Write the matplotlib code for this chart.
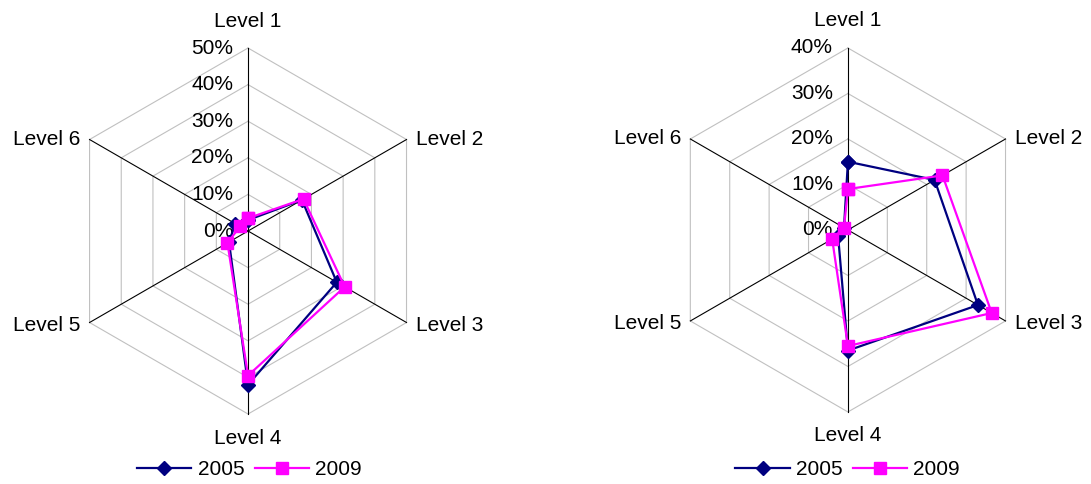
import numpy as np
import matplotlib.pyplot as plt
from matplotlib.transforms import offset_copy

# dados (percentuais)
categorias = ["Level 1", "Level 2", "Level 3", "Level 4", "Level 5", "Level 6"]
series = ["2005", "2009"]
esq_2005 = [3, 17, 28, 42, 6, 4]
esq_2009 = [3.5, 17.5, 30.5, 39.5, 6.5, 2.5]
dir_2005 = [15, 22, 33, 26.5, 2.5, 1]
dir_2009 = [9, 24, 36.5, 25.5, 4, 1]
esq_ticks = [0, 10, 20, 30, 40, 50]
dir_ticks = [0, 10, 20, 30, 40]

cores = ["#000080", "#FF00FF"]
marcadores = ["D", "s"]
tam_marcador = [7, 8.5]

plt.rcParams["font.family"] = ["Liberation Sans", "DejaVu Sans"]
plt.rcParams["font.size"] = 15

fig = plt.figure(figsize=(10.91, 4.84), dpi=100)

angulos = np.linspace(0, 2 * np.pi, len(categorias), endpoint=False)
fechado = np.append(angulos, angulos[0])

# deslocamento (em pixels) dos nomes das categorias a partir dos vértices
desloc = [(0, 27, "center"), (9, 0, "left"), (9, -3, "left"),
          (0, -24, "center"), (-9, -3, "right"), (-9, 0, "right")]


def desenhar_radar(ax, valores, ticks):
    rmax = ticks[-1]
    ax.set_theta_zero_location("N")
    ax.set_theta_direction(-1)
    ax.set_ylim(0, rmax)
    ax.grid(False)
    ax.spines["polar"].set_visible(False)
    ax.set_xticks([])
    ax.set_yticks([])
    ax.patch.set_alpha(0)

    # grade hexagonal
    for t in ticks[1:]:
        ax.plot(fechado, [t] * len(fechado), color="#C0C0C0", lw=0.8, clip_on=False)
    for a in angulos:
        ax.plot([a, a], [0, rmax], color="black", lw=0.8, clip_on=False)

    # séries
    for i, v in enumerate(valores):
        ax.plot(fechado, np.append(v, v[0]), color=cores[i], lw=1.6,
                marker=marcadores[i], ms=tam_marcador[i], label=series[i],
                clip_on=False, zorder=3 + i)

    # rótulos do eixo radial
    tr = offset_copy(ax.transData, fig=fig, x=-15, y=0, units="dots")
    for t in ticks:
        ax.text(0, t, f"{t}%", transform=tr, ha="right", va="center", zorder=2)

    # nomes das categorias
    for a, nome, (dx, dy, ha) in zip(angulos, categorias, desloc):
        trc = offset_copy(ax.transData, fig=fig, x=dx, y=dy, units="dots")
        ax.text(a, rmax, nome, transform=trc, ha=ha, va="center")


ax1 = fig.add_axes([0.0596, 0.1446, 0.3355, 0.7562], projection="polar")
desenhar_radar(ax1, [esq_2005, esq_2009], esq_ticks)

ax2 = fig.add_axes([0.6104, 0.1488, 0.3336, 0.7521], projection="polar")
desenhar_radar(ax2, [dir_2005, dir_2009], dir_ticks)

# legendas
for ax, xc in [(ax1, 0.2287), (ax2, 0.777)]:
    h, l = ax.get_legend_handles_labels()
    fig.legend(h, l, loc="center", bbox_to_anchor=(xc, 0.029), ncol=2,
               frameon=False, handlelength=2.6, handletextpad=0.3,
               columnspacing=0.5, borderaxespad=0)

fig.savefig("out.png", dpi=100)
